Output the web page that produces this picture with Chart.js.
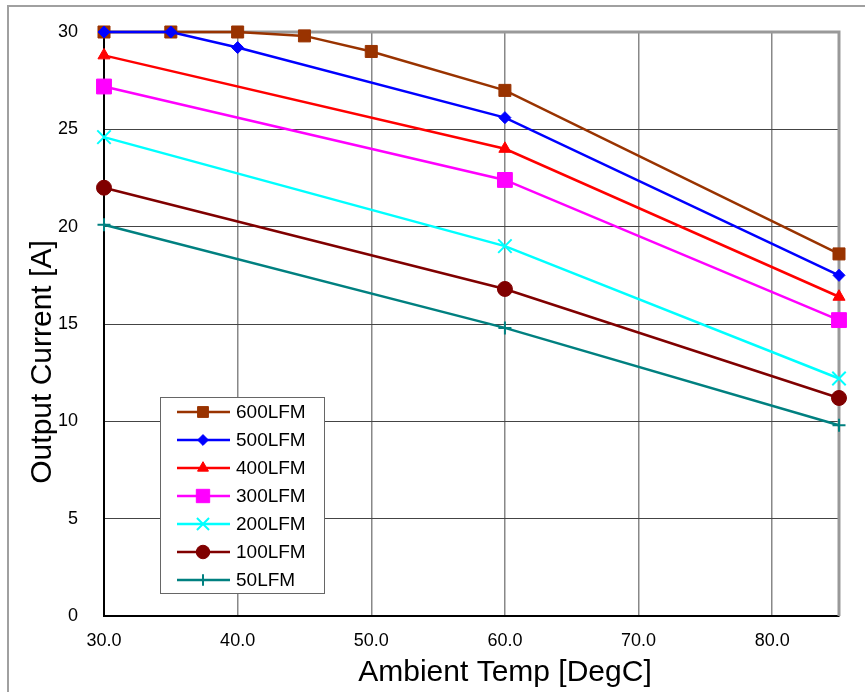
<!DOCTYPE html>
<html lang="en">
<head>
  <meta charset="UTF-8" />
  <title>Output Current vs Ambient Temp</title>
  <script src="https://cdn.jsdelivr.net/npm/chart.js"></script>
  <style>
    body {
      margin: 0;
      overflow: hidden;
      background: #fff;
      font-family: 'Liberation Sans', Arial, sans-serif;
    }

    /* grey sheet border of the original */
    .frame {
      position: absolute;
      left: 7px;
      top: 5px;
      width: 900px;
      height: 720px;
      border: 2px solid #a0a0a0;
    }

    .wrap {
      position: absolute;
      left: 0;
      top: 0;
      width: 865px;
      height: 692px;
    }
  </style>
</head>
<body>
  <div class="frame"></div>
  <div class="wrap"><canvas id="derating"></canvas></div>

  <script>
    // --- data ---
    const seriesNames = ["600LFM", "500LFM", "400LFM", "300LFM", "200LFM", "100LFM", "50LFM"];

    const temp600 = [30, 35, 40, 45, 50, 60, 85];
    const amps600 = [30, 30, 30, 29.8, 29.0, 27.0, 18.6];

    const temp500 = [30, 35, 40, 60, 85];
    const amps500 = [30, 30, 29.2, 25.6, 17.5];

    const temp400 = [30, 60, 85];
    const amps400 = [28.8, 24.0, 16.4];

    const temp300 = [30, 60, 85];
    const amps300 = [27.2, 22.4, 15.2];

    const temp200 = [30, 60, 85];
    const amps200 = [24.6, 19.0, 12.2];

    const temp100 = [30, 60, 85];
    const amps100 = [22.0, 16.8, 11.2];

    const temp50 = [30, 60, 85];
    const amps50 = [20.1, 14.8, 9.8];

    const xTicks = [30, 40, 50, 60, 70, 80];
    const yTicks = [0, 5, 10, 15, 20, 25, 30];

    const xTitle = "Ambient Temp [DegC]";
    const yTitle = "Output Current [A]";

    const temps = [temp600, temp500, temp400, temp300, temp200, temp100, temp50];
    const amps = [amps600, amps500, amps400, amps300, amps200, amps100, amps50];

    const colors = ["#993300", "#0000ff", "#ff0000", "#ff00ff", "#00ffff", "#800000", "#008080"];
    const markers = ["rect", "rectRot", "triangle", "rect", "crossRot", "circle", "cross"];
    const markerSize = [8.5, 6, 7, 10.5, 9.5, 7.5, 6.5];

    const FONT = "'Liberation Sans', Arial, sans-serif";

    function toPoints(xs, ys) {
      return xs.map((x, i) => ({ x: x, y: ys[i] }));
    }

    const datasets = seriesNames.map((name, i) => ({
      label: name,
      data: toPoints(temps[i], amps[i]),
      borderColor: colors[i],
      backgroundColor: colors[i],
      borderWidth: 2.5,
      pointStyle: markers[i],
      pointRadius: markerSize[i],
      pointHoverRadius: markerSize[i],
      pointBorderWidth: markers[i].startsWith("cross") ? 2 : 1,
      tension: 0,
      clip: false,
      // later series sit on top, like the original
      order: seriesNames.length - i
    }));

    // top / right frame of the plot area
    const plotFrame = {
      id: "plotFrame",
      beforeDatasetsDraw(chart) {
        const { ctx, chartArea: a } = chart;
        ctx.save();
        ctx.strokeStyle = "#999";
        ctx.lineWidth = 3;
        ctx.beginPath();
        ctx.moveTo(a.left, a.top);
        ctx.lineTo(a.right, a.top);
        ctx.lineTo(a.right, a.bottom);
        ctx.stroke();
        ctx.restore();
      }
    };

    // axis titles sit off-centre in the original, so place them by hand
    const axisTitles = {
      id: "axisTitles",
      afterDraw(chart) {
        const { ctx, chartArea: a } = chart;
        ctx.save();
        ctx.fillStyle = "#000";
        ctx.font = "30px " + FONT;
        ctx.textAlign = "center";
        ctx.textBaseline = "alphabetic";
        ctx.fillText(xTitle, a.left + 401, a.bottom + 65);
        ctx.translate(a.left - 53, a.top + 330);
        ctx.rotate(-Math.PI / 2);
        ctx.fillText(yTitle, 0, 0);
        ctx.restore();
      }
    };

    // boxed legend inside the plot, lower left
    const boxLegend = {
      id: "boxLegend",
      afterDraw(chart) {
        const { ctx, chartArea: a } = chart;
        const left = a.left + 56;
        const top = a.top + 365;
        const w = 164, h = 196, row = 28;
        ctx.save();
        ctx.fillStyle = "#fff";
        ctx.fillRect(left, top, w, h);
        ctx.strokeStyle = "#666";
        ctx.lineWidth = 1;
        ctx.strokeRect(left + 0.5, top + 0.5, w, h);

        ctx.font = "19px " + FONT;
        ctx.textBaseline = "middle";
        chart.data.datasets.forEach((ds, i) => {
          const y = top + 15 + i * row;
          ctx.strokeStyle = ds.borderColor;
          ctx.lineWidth = 2.5;
          ctx.beginPath();
          ctx.moveTo(left + 17, y);
          ctx.lineTo(left + 70, y);
          ctx.stroke();
          ctx.fillStyle = ds.backgroundColor;
          ctx.lineWidth = ds.pointBorderWidth;
          Chart.helpers.drawPoint(ctx, {
            pointStyle: ds.pointStyle,
            radius: ds.pointRadius * 0.9,
            rotation: 0,
            borderWidth: ds.pointBorderWidth
          }, left + 43, y);
          ctx.fillStyle = "#000";
          ctx.fillText(ds.label, left + 76, y + 1);
        });
        ctx.restore();
      }
    };

    new Chart(document.getElementById("derating"), {
      type: "line",
      data: { datasets: datasets },
      options: {
        responsive: true,
        maintainAspectRatio: false,
        animation: false,
        layout: {
          autoPadding: false,
          padding: { top: 32, right: 26, left: 0, bottom: 0 }
        },
        plugins: {
          legend: { display: false },
          tooltip: { enabled: false }
        },
        scales: {
          x: {
            type: "linear",
            min: 30,
            max: 85,
            afterBuildTicks(scale) {
              scale.ticks = xTicks.map(v => ({ value: v }));
            },
            afterFit(scale) {
              scale.height = 76;
              scale.paddingLeft = 0;
              scale.paddingRight = 0;
            },
            ticks: {
              color: "#000",
              padding: 14,
              maxRotation: 0,
              font: { size: 18, family: FONT },
              callback: v => Number(v).toFixed(1)
            },
            grid: { color: "#888", lineWidth: 1.5, drawTicks: false },
            border: { color: "#000", width: 2 }
          },
          y: {
            min: 0,
            max: 30,
            afterBuildTicks(scale) {
              scale.ticks = yTicks.map(v => ({ value: v }));
            },
            afterFit(scale) {
              scale.width = 104;
              scale.paddingTop = 0;
              scale.paddingBottom = 0;
            },
            ticks: {
              color: "#000",
              padding: 26,
              font: { size: 18, family: FONT }
            },
            grid: {
              color: ctx => (ctx.tick && ctx.tick.value === 30) ? "rgba(0,0,0,0)" : "#444",
              lineWidth: 1,
              drawTicks: false
            },
            border: { color: "#000", width: 2 }
          }
        }
      },
      plugins: [plotFrame, axisTitles, boxLegend]
    });
  </script>
</body>
</html>
